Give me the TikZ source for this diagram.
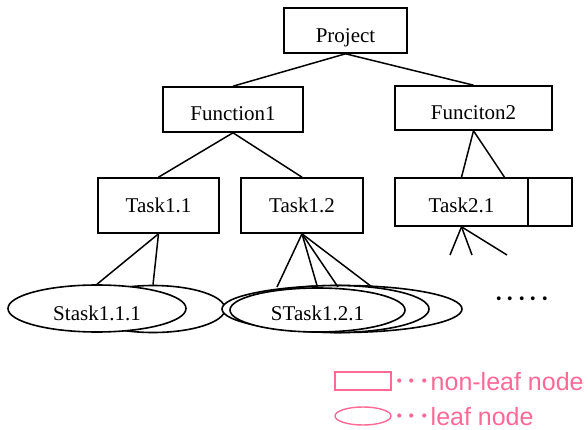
\documentclass[tikz,border=0pt]{standalone}
\usepackage{fontspec}
\setmainfont{Liberation Serif}
\newfontfamily\legendfont{Liberation Sans}
\newfontfamily\cjk{Noto Sans CJK JP}
\usetikzlibrary{shapes.geometric,calc}
\definecolor{legpink}{RGB}{255,105,150}
\begin{document}
\begin{tikzpicture}[x=1pt,y=-1pt,
  box/.style={draw,line width=1.6pt,fill=white,inner sep=0pt,font=\fontsize{21}{25}\selectfont},
  leaf/.style={draw,ellipse,line width=1.6pt,fill=white,inner sep=0pt,font=\fontsize{21}{25}\selectfont},
  lower/.style={text height=#1,text depth=0pt},
  link/.style={line width=1.5pt},
  leg/.style={legpink,font=\legendfont\fontsize{25}{30}\selectfont,inner sep=0pt,anchor=west}]
\useasboundingbox (0,0) rectangle (588,430);
% non-leaf nodes
\node[box,lower=25pt,minimum width=123pt,minimum height=45pt] (proj) at (345.5,30.5) {Project};
\node[box,lower=23pt,minimum width=140pt,minimum height=45pt] (f1) at (233,109.5) {Function1};
\node[box,lower=23pt,minimum width=157pt,minimum height=44pt] (f2) at (473.5,108) {Funciton2};
\node[box,lower=15pt,minimum width=121pt,minimum height=55pt] (t11) at (158.5,205.5) {Task1.1};
\node[box,lower=15pt,minimum width=122pt,minimum height=55pt] (t12) at (302,205.5) {Task1.2};
\node[box,lower=21pt,minimum width=133pt,minimum height=48pt] (t21) at (461.5,202) {Task2.1};
\node[box,minimum width=44pt,minimum height=48pt] (t21x) at (550,202) {};
% leaf nodes (stacked)
\node[leaf,minimum width=144pt,minimum height=47pt] (e2) at (153,309) {};
\node[leaf,minimum width=240pt,minimum height=47pt] (e3) at (342,309) {};
\node[leaf,minimum width=186pt,minimum height=47pt] (em) at (336,309) {};
\node[leaf,lower=21pt,minimum width=175pt,minimum height=44pt] (s121) at (317.5,310) {STask1.2.1};
\node[leaf,lower=24pt,minimum width=178pt,minimum height=47pt] (s111) at (97,308.5) {Stask1.1.1};
\node[font=\cjk\fontsize{23}{26}\selectfont,inner sep=0pt] (more) at (522,302) {･････};
% free ends
\coordinate (c1) at (277,287);
\coordinate (c2) at (338,287);
\coordinate (c3) at (372,287);
\coordinate (d0) at (505,178);
\coordinate (g1) at (450,255);
\coordinate (g2) at (472,255);
\coordinate (g3) at (507,255);
% connectors
\draw[link] (proj.south) -- (f1.north);
\draw[link] (proj.south) -- (f2.north);
\draw[link] (f1.south) -- (t11.north);
\draw[link] (f1.south) -- (t12.north);
\draw[link] (f2.south) -- (t21.north);
\draw[link] (f2.south) -- (d0);
\draw[link] (t11.south) -- (s111.north);
\draw[link] (t11.south) -- (e2.north);
\draw[link] (t12.south) -- (c1);
\draw[link] (t12.south) -- (s121.north);
\draw[link] (t12.south) -- (c2);
\draw[link] (t12.south) -- (c3);
\draw[link] (t21.south) -- (g1);
\draw[link] (t21.south) -- (g2);
\draw[link] (t21.south) -- (g3);
% legend
\node[draw=legpink,line width=1.4pt,minimum width=56pt,minimum height=18pt,inner sep=0pt] (legrect) at (363,381) {};
\node[draw=legpink,ellipse,line width=1.4pt,minimum width=56pt,minimum height=18pt,inner sep=0pt] (legell) at (363,416) {};
\node[leg] (legtext1) at (393,382) {{\cjk ･･･}non-leaf node};
\node[leg] (legtext2) at (393,417) {{\cjk ･･･}leaf node};
\end{tikzpicture}
\end{document}
